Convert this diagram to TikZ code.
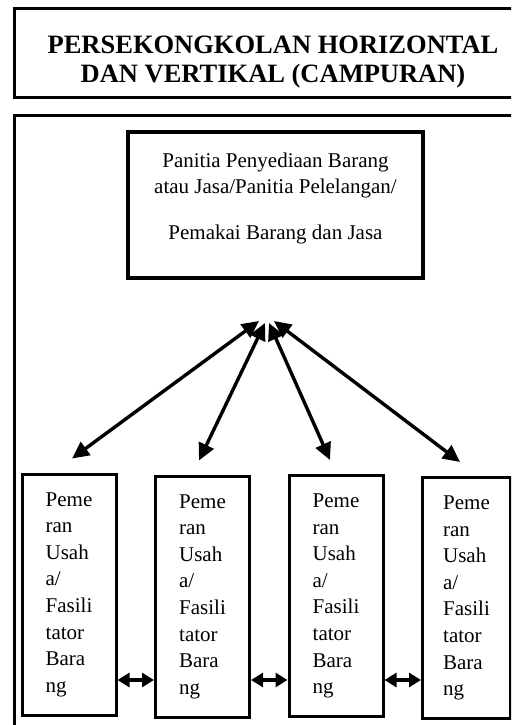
\documentclass[tikz,border=0pt]{standalone}
\usepackage{fontspec}
\setmainfont{Liberation Serif}
\usetikzlibrary{arrows.meta}
\newcommand{\pelaku}[4][94]{% #1: optional width, #2: name, #3: x, #4: y
	\node[pelakubox,minimum width=#1pt] (#2) at (#3,#4) {Peme\\ran\\Usah\\a/\\Fasili\\tator\\Bara\\ng};
}

\begin{document}
\begin{tikzpicture}[x=1pt,y=-1pt,
	framebox/.style={draw,line width=3pt,inner sep=0pt,outer sep=0pt},
	pelakubox/.style={draw,line width=3pt,inner sep=0pt,minimum height=241pt,align=left,font=\fontsize{21}{26.6}\selectfont},
	hubarrow/.style={line width=3.4pt,{Triangle[length=17pt,width=16pt]}-{Triangle[length=17pt,width=16pt]}},
	linkarrow/.style={line width=3.6pt,{Triangle[length=12pt,width=14pt]}-{Triangle[length=12pt,width=14pt]}}]
	\useasboundingbox (0,0) rectangle (511,725);
	\clip (0,0) rectangle (511,725);
	
	% Title
	\node[framebox,minimum width=517pt,minimum height=89pt] (titlebox) at (273,52.75) {};
	\node[inner sep=0pt,align=center,font=\bfseries\fontsize{26.5}{29}\selectfont] (judul) at (273,61.6) {PERSEKONGKOLAN HORIZONTAL\\DAN VERTIKAL (CAMPURAN)};
	
	% Outer frame
	\node[framebox,anchor=north west,minimum width=540pt,minimum height=660pt] (bingkai) at (14.5,115) {};
	
	% Committee box
	\node[framebox,line width=4pt,minimum width=295pt,minimum height=146pt] (panitia) at (275.5,205) {};
	\node[inner sep=0pt,align=center,font=\fontsize{21}{26}\selectfont] (panitiatext) at (275.5,198.2) {Panitia Penyediaan Barang\\atau Jasa/Panitia Pelelangan/\\[20pt]Pemakai Barang dan Jasa};
	
	% Business actors
	\pelaku{box1}{69}{594.5}
	\pelaku{box2}{202.5}{596.5}
	\pelaku{box3}{336}{596}
	\pelaku[88]{box4}{466.5}{598}
	
	% Arrows to the committee
	\coordinate (hubA) at (259,321);
	\coordinate (hubB) at (265,323);
	\coordinate (hubC) at (269,323);
	\coordinate (hubD) at (274,321);
	\draw[hubarrow] (hubA) -- ([xshift=3pt,yshift=14pt]box1.north);
	\draw[hubarrow] (hubB) -- ([xshift=-3.5pt,yshift=14pt]box2.north);
	\draw[hubarrow] (hubC) -- ([xshift=-6pt,yshift=14pt]box3.north);
	\draw[hubarrow] (hubD) -- ([xshift=-6.5pt,yshift=14pt]box4.north);
	
	% Arrows between actors
	\coordinate (linkrow) at (0,680);
	\draw[linkarrow] (box1.east |- linkrow) -- (box2.west |- linkrow);
	\draw[linkarrow] (box2.east |- linkrow) -- (box3.west |- linkrow);
	\draw[linkarrow] (box3.east |- linkrow) -- (box4.west |- linkrow);
\end{tikzpicture}
\end{document}
